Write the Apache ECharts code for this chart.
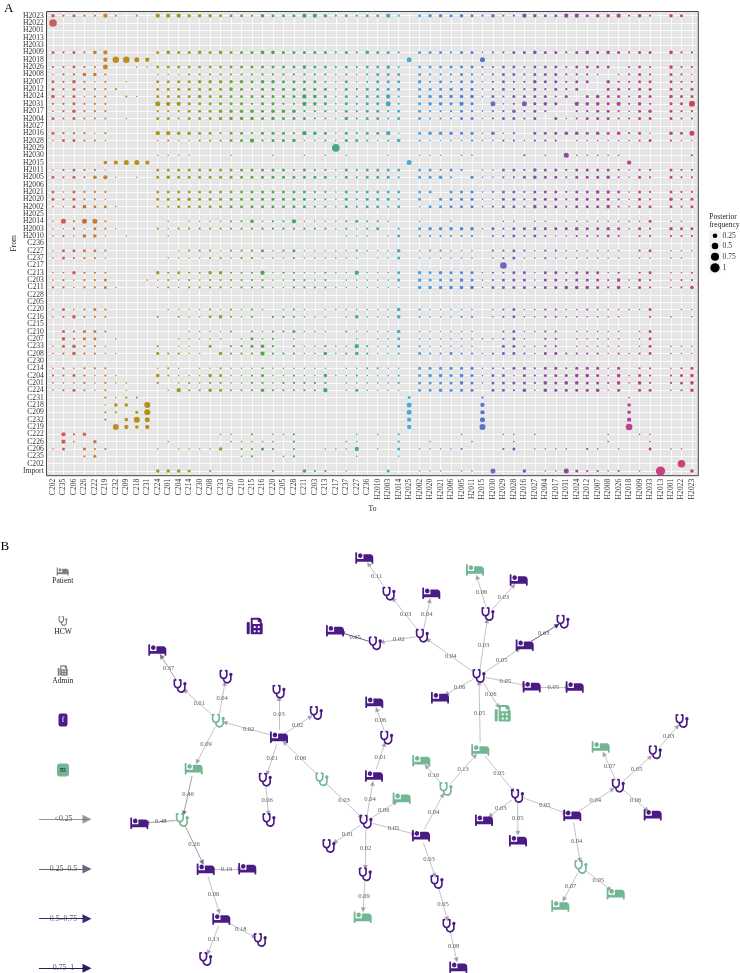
<!DOCTYPE html>
<html>
<head>
<meta charset="utf-8">
<style>html,body{margin:0;padding:0;background:#fff}#c{width:740px;height:973px}</style>
<script src="https://cdn.jsdelivr.net/npm/echarts@6/dist/echarts.min.js"></script>
</head>
<body>
<div id="c"></div>
<script>
// ---------- Panel A data ----------
const toCategories = ['C202','C235','C206','C226','C222','C219','C232','C209','C218','C231','C224','C201','C204','C214','C230','C208','C233','C207','C210','C215','C216','C220','C205','C228','C211','C203','C213','C217','C237','C227','C236','H2010','H2003','H2014','H2025','H2002','H2020','H2021','H2006','H2005','H2011','H2015','H2030','H2029','H2028','H2016','H2027','H2004','H2017','H2031','H2024','H2012','H2007','H2008','H2026','H2018','H2009','H2033','H2013','H2001','H2022','H2023'];
const fromCategories = ['H2023','H2022','H2001','H2013','H2033','H2009','H2018','H2026','H2008','H2007','H2012','H2024','H2031','H2017','H2004','H2027','H2016','H2028','H2029','H2030','H2015','H2011','H2005','H2006','H2021','H2020','H2002','H2025','H2014','H2003','H2010','C236','C227','C237','C217','C213','C203','C211','C228','C205','C220','C216','C215','C210','C207','C233','C208','C230','C214','C204','C201','C224','C231','C218','C209','C232','C219','C222','C226','C206','C235','C202','Import'];
// posterior frequency class read per cell: '.' = none
const freqClass = {1:.03,2:.056,3:.104,4:.15,5:.214,6:.289,7:.416,8:.5,9:.667,a:1};
const rowsFromHospital = [
'4232252.2. 5554443332 4333554232 3352.34434 3242254335 53445242.4 3.',
'9',
'',
'',
'',
'323245.... 3433434333 4433333232 4332.33323 3122334332 34343233.4 22',
'.....58865 .......... .......... ....6..... .6........ .......... ..',
'223226..11 3333333333 3333433232 3342.33333 3223323332 3333.232.4 22',
'122442.... 1112222222 2222222121 2333.32223 2123323332 221.1232.3 21',
'324212.1.. 3333444443 4433332131 2333.42323 3123224332 33.42233.3 22',
'3232222... 3333333432 3333333132 3333.33333 3123223232 3..33233.3 23',
'423122.21. 3333433333 3333543132 3352.34444 4132333323 .3433233.4 33',
'223222.... 6553333332 3322543132 3362.34435 3.6126343. 54435242.3 37',
'124222.... 2223334444 3444222132 3323.32223 21224232.. 22332134.3 22',
'323222.1.. 3323334444 3433322142 3323.32223 3123323.31 23332233.3 22',
'',
'322212.... 5544332332 3332543132 3351.34443 31412.3334 43434231.4 36',
'133221.... 1211222335 2334112133 2124.21111 211221222. 11111123.2 11',
'.......... .......... .......9..',
'.......... 1111...1.. .1..1.1.1. ..1..111.1 1....2.1.6 11111..... .2',
'.....45665 .......... .......... ....6..... .......... .....5.... ..',
'123221.... 3333333333 3332322132 3333.33232 .113324332 33332122.3 22',
'3232451.1. 3433333333 3333333132 3332.3342. 3112234332 33342132.3 22',
'',
'313222.... 3333333333 3333322132 3333.33.33 3123323332 33443132.3 22',
'323221.... 3334333333 3333322132 3332.3.333 3113323332 33332132.4 23',
'1134331... 2233333333 3333322132 3323.13333 3123324332 33342133.3 23',
'',
'162662.... .1.1111224 1225111123 221..1..1. ...11.11.1 11111113.1 1.',
'1121321... 2122222222 2222222121 23.2.34444 4132333333 43343132.4 33',
'121441.1.. .1........ ........11 1.13.22222 2.22323211 22232.22.2 22'
];
const rowsFromCommunity = [
'',
'133332.... ..12221222 3123111112 1114.12211 1.22321221 11111.23.1 11',
'132221.... .111122122 1112111111 .113.11111 1.12311211 11111.11.1 1.',
'.......... .......... .......... .......... ...8...... .......... ..',
'114222.... 4232244222 5122112115 1113.43433 3122331332 33312.23.1 12',
'121223...1 1212122222 2112212.11 1113.43334 3123331332 33324132.1 22',
'2212231... 1212222122 2112222111 1111.44444 4133332334 44324132.1 24',
'',
'',
'131232.... .111121212 1.121.1111 1114.21111 1.12311221 12111113.. 11',
'124222.... 2.21134212 .222111.14 1114.21112 2.12311221 11111..2.1 .1',
'',
'.32332.... ...11112.2 1223111.21 1114.11111 1..231122. 11111.13.. ..',
'.4233.1... ..11111.13 12.1.....1 .113.11111 111231.22. 11111.13.. ..',
'134221.... 2.11.3.223 42.2112115 2113.21111 1..331122. 11111.13.1 11',
'1242211... 32211.4222 5222114124 2112.32232 2123321332 22212123.1 11',
'',
'121222.... 121.112111 2111111.11 2211.33333 3122332332 33313.22.1 23',
'2232121... 4211143112 3112114112 1112.34434 3133132333 44314132.2 34',
'11121211.. 2.12122112 2122222.11 1112.33334 3133332434 43324142.2 34',
'123212.1.. .152243222 4222225.13 1111.33433 3.33241433 33413.33.1 24',
'.....2122. .......... .......... ....3..... .2........ .....1.... ..',
'.....144.7 .......... .......... ....6..... .5........ .....4.... ..',
'.....22.37 .......... .......... ....6..... .5........ .....4.... ..',
'.....2.476 .......... .......... ....5..... .6........ .....5.... ..',
'......7545 .......... .......... ....5..... .7........ .....8.... ..',
'.524...... ......11.2 .112.....1 .1.2.....1 ...11.1... ...1..11.. ..',
'.51.4..... .1.....111 11.2....11 ...2..1... 1...1..... ...1...1.. ..',
'13.322.... 1.11114.22 32.2..1115 .1.3.11112 ...23.1111 .21.1..3.1 1.',
'...23..... ........12 ..12.....1 ...1...... .......... .......... ..',
'.......... .......... .......... .......... .......... .......... 9.',
'.......... 4443.2.... .2..422.1. ..3..111.1 1.6..4.116 32212.1.a. .4'
];
const legendFreq = [0.25, 0.5, 0.75, 1];

// ---------- Panel B data ----------
const nodeKind = ['b','s','s','s','b','s','s','s','s','s','b','s','b','b','b','b','s','s','s','b','s','b','s','s','b','b','b','s','s','b','s','b','b','s','b','b','b','s','b','b','s','s','s','b','b','s','b','s','s','b','s','b','s','b','b','x','b','b','s','b','b','x'];
const nodeSex  = ['f','f','f','m','f','f','f','f','f','m','m','m','f','f','f','f','f','f','f','f','f','f','f','f','m','m','f','f','f','f','m','m','m','f','f','f','f','f','m','f','f','f','m','m','m','f','m','f','f','f','f','f','f','f','f','m','f','f','f','f','f','f'];
const nodeX = [157.3,180,226,218.3,279,279,316.3,265.3,269,322,193.7,182.3,139.3,205.7,247.3,221.3,260.3,205.7,366,374,386.7,374.3,329,365.3,362.7,401.7,421,437,449,458.3,446,421.3,480.3,517.5,484,518,572.3,618.3,600.7,652.7,655.3,682,581,615.7,560.3,479,475,488,422.3,431.3,389,364.3,375.3,335,440,502.7,518.7,524.7,563,531.7,574.7,254.7];
const nodeY = [650,686,676.7,720.7,737.3,691.7,713,779.7,820,779.3,768.7,820,823.3,869.3,868.7,919,940,959,821.7,776,737.7,702.3,846,874.3,917.3,798.3,835.7,882,925.7,967.3,789,760.7,750,796,820.3,840.7,815.3,785.7,747,814.7,752.3,721,867,893.7,906,676,570,614,635.7,593.3,593.7,558,643.3,630.7,697.7,713.3,580,645.3,621.7,686.7,687,626];
const edgeFrom = [2,4,4,5,5,5,5,8,10,10,4,11,12,12,14,14,16,16,19,20,21,19,19,24,19,19,27,28,29,27,31,31,33,33,34,34,34,37,37,38,38,38,41,43,43,46,48,48,46,49,49,51,49,53,46,46,46,58,46,60];
const edgeTo   = [1,2,3,4,6,7,8,9,5,19,11,12,13,14,15,16,17,18,20,21,22,23,24,25,26,27,28,29,30,31,32,33,46,34,35,36,37,38,43,39,40,41,42,44,45,48,47,57,49,50,51,52,53,54,55,56,58,59,60,61];
const edgeFreq = [.37,.01,.04,.02,.03,.02,.01,.06,.06,.03,.09,.46,.48,.26,.19,.06,.18,.13,.04,.01,.06,.01,.02,.09,.06,.05,.03,.05,.08,.04,.16,.13,.05,.05,.03,.05,.05,.04,.04,.07,.06,.05,.03,.05,.07,.03,.06,.03,.04,.04,.03,.11,.02,.65,.06,.06,.05,.63,.05,.05];
const typeLabels = ['Patient','HCW','Admin'];
const sexLabels = ['f','m'];
const freqBandLabels = ['<0.25','0.25\u20130.5','0.5\u20130.75','0.75\u20131'];

// ---------- styles ----------
const SERIF = '"Liberation Serif","Times New Roman",serif';
const PURPLE = '#4a1a85', GREEN = '#72b794', GREY = '#7f7f7f';
const BED = 'path://M176 256c44.11 0 80-35.89 80-80s-35.89-80-80-80-80 35.89-80 80 35.89 80 80 80zm352-128H304c-8.84 0-16 7.16-16 16v144H64V80c0-8.84-7.16-16-16-16H16C7.16 64 0 71.16 0 80v352c0 8.84 7.16 16 16 16h32c8.84 0 16-7.16 16-16v-48h512v48c0 8.84 7.16 16 16 16h32c8.84 0 16-7.16 16-16V240c0-61.86-50.14-112-112-112z';
const STETH = 'path://M447.1 112c-34.2.5-62.3 28.4-63 62.6-.5 24.3 12.5 45.6 32 56.8V344c0 57.3-50.2 104-112 104-60 0-109.2-44.1-111.9-99.2C265 333.8 320 269.2 320 192V36.6c0-11.4-8.1-21.3-19.3-23.5L237.8.5c-13-2.6-25.6 5.8-28.2 18.8L206.4 35c-2.6 13 5.8 25.6 18.8 28.2l30.7 6.1v121.4c0 52.9-42.2 96.7-95.1 97.2-53.4.5-96.9-42.7-96.9-96V69.4l30.7-6.1c13-2.6 21.4-15.2 18.8-28.2l-3.1-15.7C107.7 6.4 95.1-2 82.1.6L19.3 13C8.1 15.3 0 25.1 0 36.6V192c0 77.3 55.1 142 128.1 156.8C130.7 439.2 208.6 512 304 512c97 0 176-75.4 176-168V231.4c19.1-11.1 32-31.7 32-55.4 0-35.7-29.2-64.5-64.9-64z';
const FAX = 'path://M480 160V77.25a32 32 0 0 0-9.38-22.63L425.37 9.37A32 32 0 0 0 402.75 0H160a32 32 0 0 0-32 32v448a32 32 0 0 0 32 32h320a32 32 0 0 0 32-32V192a32 32 0 0 0-32-32zM288 432a16 16 0 0 1-16 16h-32a16 16 0 0 1-16-16v-32a16 16 0 0 1 16-16h32a16 16 0 0 1 16 16zm0-128a16 16 0 0 1-16 16h-32a16 16 0 0 1-16-16v-32a16 16 0 0 1 16-16h32a16 16 0 0 1 16 16zm128 128a16 16 0 0 1-16 16h-32a16 16 0 0 1-16-16v-32a16 16 0 0 1 16-16h32a16 16 0 0 1 16 16zm0-128a16 16 0 0 1-16 16h-32a16 16 0 0 1-16-16v-32a16 16 0 0 1 16-16h32a16 16 0 0 1 16 16zm0-112H192V64h160v48a16 16 0 0 0 16 16h48zM64 128H32a32 32 0 0 0-32 32v320a32 32 0 0 0 32 32h32a32 32 0 0 0 32-32V160a32 32 0 0 0-32-32z';
const ICONS = {b:[BED,[18,11.5]], s:[STETH,[13,14]], x:[FAX,[16,16.5]]};

// column colour stops (index, colour)
const stops = [[0,'#cf5c62'],[2,'#cc5d48'],[4,'#ca7b38'],[6,'#c48a22'],[9,'#b5901a'],[12,'#a29a20'],[16,'#7fa632'],[20,'#4fa545'],[24,'#44a56c'],[29,'#45a89c'],[32,'#47a9b8'],[34,'#4da8d8'],[36,'#4c9be0'],[40,'#4a7fd8'],[42,'#6a69c4'],[45,'#7c56b0'],[48,'#8f48a8'],[51,'#a0409f'],[55,'#bf3f90'],[58,'#c84080'],[61,'#cb4662']];
function hex(c){return [1,3,5].map(i=>parseInt(c.substr(i,2),16));}
function colColor(i){
  for(let k=0;k<stops.length-1;k++){
    const a=stops[k],b=stops[k+1];
    if(i<=b[0]){const t=(i-a[0])/(b[0]-a[0]);const p=hex(a[1]),q=hex(b[1]);
      return 'rgb('+p.map((v,j)=>Math.round(v+(q[j]-v)*t)).join(',')+')';}
  }
  return stops[stops.length-1][1];
}
const diam = v => 9.3*Math.sqrt(v);

// ---------- build ----------
const cells = [];
rowsFromHospital.concat(rowsFromCommunity).forEach((row,y)=>{
  row.replace(/ /g,'').split('').forEach((ch,x)=>{
    if(freqClass[ch]) cells.push([toCategories[x],fromCategories[y],freqClass[ch],x]);
  });
});

function edgeColor(v){return v<.25?'rgba(110,106,125,.55)':v<.5?'rgba(95,88,120,.8)':v<.75?'#3b2a72':'#2a1a60';}
const gNodes = nodeKind.map((k,i)=>({
  name:'n'+(i+1), value:[nodeX[i],nodeY[i]],
  symbol:ICONS[k][0], symbolSize:ICONS[k][1],
  itemStyle:{color:nodeSex[i]==='f'?PURPLE:GREEN}
}));
const gLinks = edgeFrom.map((s,i)=>({
  source:'n'+s, target:'n'+edgeTo[i], value:edgeFreq[i],
  lineStyle:{color:edgeColor(edgeFreq[i])}
}));
// edge labels sit unrotated at each edge's midpoint
const edgeLabels = edgeFrom.map((s,i)=>({
  value:[(nodeX[s-1]+nodeX[edgeTo[i]-1])/2,(nodeY[s-1]+nodeY[edgeTo[i]-1])/2],
  text:edgeFreq[i].toFixed(2), size:6.6
}));
// legend of panel B, drawn by the same graph series
const legIconX=[62.7,63,62.7], legIconY=[571.5,621,670.5], legKinds=['b','s','x'];
typeLabels.forEach((t,i)=>{
  gNodes.push({name:'lt'+i,value:[legIconX[i],legIconY[i]],symbol:ICONS[legKinds[i]][0],
    symbolSize:[[12,8],[9,10],[10,10.5]][i],itemStyle:{color:GREY},
    label:{show:true,position:'bottom',distance:1.5,formatter:t,fontFamily:SERIF,fontSize:7.6,color:'#222'}});
});
sexLabels.forEach((t,i)=>{
  gNodes.push({name:'ls'+i,value:[63,[720,770][i]],symbol:'roundRect',symbolSize:[[9,13],[12,13]][i],
    itemStyle:{color:i?GREEN:PURPLE},
    label:{show:true,position:'inside',formatter:t,fontFamily:SERIF,fontSize:7.6,color:i?'#222':'#fff'}});
});
const legY=[819.3,869,918.7,968.3], legCol=['rgba(110,106,125,.7)','#6b6384','#3b2a72','#2a1a60'];
freqBandLabels.forEach((t,i)=>{
  gNodes.push({name:'la'+i,value:[39,legY[i]],symbol:'none',symbolSize:0});
  gNodes.push({name:'lb'+i,value:[87,legY[i]],symbol:'none',symbolSize:0});
  gLinks.push({source:'la'+i,target:'lb'+i,value:0,symbol:['none','triangle'],symbolSize:[0,9],
    lineStyle:{color:legCol[i],width:1}});
  edgeLabels.push({value:[63.5,legY[i]],text:t,size:7.8});
});

const option = {
  animation:false,
  textStyle:{fontFamily:SERIF},
  graphic:{elements:[
    {type:'rect',z:-1,shape:{x:46.5,y:11.5,width:651.8,height:464.2},style:{fill:'#e5e5e5',stroke:'#444',lineWidth:1}},
    {type:'text',left:4,top:2,style:{text:'A',fontFamily:SERIF,fontSize:13,fill:'#000'}},
    {type:'text',left:0.5,top:540,style:{text:'B',fontFamily:SERIF,fontSize:13,fill:'#000'}},
    {type:'text',x:709.3,y:213,style:{text:'Posterior\nfrequency',fontFamily:SERIF,fontSize:7.6,lineHeight:8.2,fill:'#222'}},
    {type:'rect',shape:{x:709.3,y:230.5,width:11.4,height:43},style:{fill:'#f2f2f2'}}
  ].concat(legendFreq.flatMap((v,i)=>{
    const y=[235.7,246,256.7,267.8][i];
    return [
      {type:'circle',shape:{cx:715,cy:y,r:diam(v)/2},style:{fill:'#000'}},
      {type:'text',x:722.5,y:y-4,style:{text:String(v),fontFamily:SERIF,fontSize:7.6,fill:'#333'}}
    ];
  }))},
  grid:[
    {left:47.76,top:12.03,width:649.45,height:462.7,outerBoundsMode:'none'},
    {left:0,top:0,width:740,height:973,outerBoundsMode:'none'}
  ],
  xAxis:[
    {type:'category',data:toCategories,boundaryGap:true,
     name:'To',nameLocation:'middle',nameGap:30,nameMoveOverlap:false,nameTextStyle:{fontFamily:SERIF,fontSize:7.6,color:'#222'},
     axisLine:{show:false},axisTick:{show:false},
     axisLabel:{interval:0,rotate:90,margin:4,fontFamily:SERIF,fontSize:7.6,color:'#333'},
     splitLine:{show:true,alignWithLabel:true,lineStyle:{color:'#fff',width:.8}}},
    {type:'value',min:0,max:740,show:false,gridIndex:1}
  ],
  yAxis:[
    {type:'category',data:fromCategories,inverse:true,boundaryGap:true,
     name:'From',nameLocation:'middle',nameGap:30,nameMoveOverlap:false,nameTextStyle:{fontFamily:SERIF,fontSize:7.6,color:'#222'},
     axisLine:{show:false},axisTick:{show:false},
     axisLabel:{interval:0,margin:4,fontFamily:SERIF,fontSize:7.6,color:'#333'},
     splitLine:{show:true,alignWithLabel:true,lineStyle:{color:'#fff',width:.8}}},
    {type:'value',min:0,max:973,inverse:true,show:false,gridIndex:1}
  ],
  series:[
    {type:'scatter',xAxisIndex:0,yAxisIndex:0,data:cells,symbol:'circle',
     encode:{x:0,y:1},
     symbolSize:d=>diam(d[2]),
     itemStyle:{opacity:1,color:p=>colColor(p.data[3])},
     silent:true},
    {type:'graph',coordinateSystem:'cartesian2d',xAxisIndex:1,yAxisIndex:1,
     data:gNodes,links:gLinks,
     edgeSymbol:['circle','triangle'],edgeSymbolSize:[0,5],
     lineStyle:{width:.75,opacity:1,curveness:0},
     label:{show:false},edgeLabel:{show:false},
     silent:true},
    {type:'scatter',xAxisIndex:1,yAxisIndex:1,z:5,silent:true,
     symbol:'circle',symbolSize:0,
     data:edgeLabels.map(d=>({value:d.value,text:d.text,label:{fontSize:d.size}})),
     label:{show:true,position:'inside',color:'#333',fontFamily:SERIF,formatter:p=>p.data.text}}
  ]
};
const chart = echarts.init(document.getElementById('c'),null,{renderer:'canvas'});
chart.setOption(option);
</script>
</body>
</html>
